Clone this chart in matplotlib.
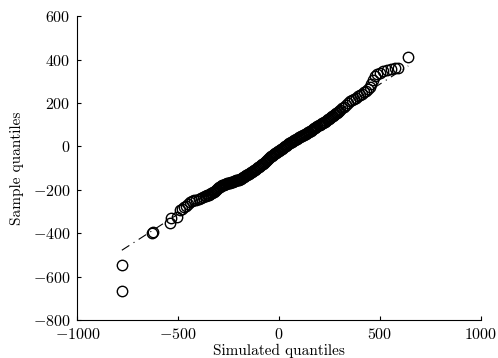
import numpy as np
import matplotlib
matplotlib.use("Agg")
import matplotlib.pyplot as plt

plt.rcParams["font.family"] = "serif"
plt.rcParams["font.serif"] = ["cmr10"]
plt.rcParams["mathtext.fontset"] = "cm"
plt.rcParams["axes.formatter.use_mathtext"] = True
plt.rcParams["font.size"] = 11

# simulated quantiles (x) against sample quantiles (y), sorted
sim_q = [
    -780, -777, -633, -625, -542, -537, -509, -493, -480,
    -470, -460, -450, -440, -430, -420, -410, -400, -390, -380,
    -370, -365, -360, -355, -350, -345, -340, -335, -330, -325,
    -320, -315, -310, -305, -300, -295, -290, -285, -280, -275,
    -270, -265, -260, -255, -250, -245, -240, -235, -230, -225,
    -220, -215, -210, -205, -200, -195, -190, -185, -180, -175,
    -170, -165, -160, -155, -150, -145, -140, -135, -130, -125,
    -120, -115, -110, -105, -100, -95, -90, -85, -80, -75,
    -70, -65, -60, -55, -50, -45, -40, -35, -30, -25,
    -20, -15, -10, -5, 0, 5, 10, 15, 20, 25,
    30, 35, 40, 45, 50, 55, 60, 65, 70, 75,
    80, 85, 90, 95, 100, 105, 110, 115, 120, 125,
    130, 135, 140, 145, 150, 155, 160, 165, 170, 175,
    180, 185, 190, 195, 200, 205, 210, 215, 220, 225,
    230, 235, 240, 245, 250, 255, 260, 265, 270, 275,
    280, 285, 290, 295, 300,
    310, 320, 330, 340, 350, 360, 370, 380, 390, 400,
    410, 420, 430, 440, 450, 455, 465, 475, 485, 500,
    515, 534, 555, 574, 589, 640,
]
sample_q = [
    -665, -547, -401, -393, -355, -332, -324, -294, -288,
    -281, -273, -265, -258, -253, -249, -245, -241, -237, -233,
    -230, -228, -226, -224, -222, -220, -217, -214, -211, -208,
    -205, -201, -197, -193, -189, -185, -182, -180, -178, -176,
    -174, -173, -171, -170, -168, -167, -165, -164, -162, -161,
    -159, -157, -156, -154, -153, -151, -148, -145, -143, -140,
    -137, -134, -131, -129, -126, -123, -120, -117, -113, -110,
    -107, -104, -101, -97, -94, -91, -87, -83, -80, -76,
    -72, -68, -63, -59, -54, -50, -46, -43, -39, -36,
    -32, -29, -26, -23, -20, -17, -13, -10, -6, -3,
    0, 4, 7, 11, 14, 17, 20, 22, 25, 28,
    31, 33, 36, 38, 41, 44, 46, 49, 51, 54,
    57, 59, 62, 64, 67, 70, 73, 77, 80, 83,
    86, 90, 93, 97, 100, 103, 106, 108, 111, 114,
    117, 120, 124, 127, 130, 134, 138, 141, 145, 149,
    153, 156, 160, 163, 167,
    175, 183, 192, 200, 209, 214, 219, 225, 230, 236,
    242, 249, 257, 264, 272, 285, 305, 324, 332, 338,
    345, 352, 356, 359, 363, 410,
]

# reference line through the quartiles
ref_slope = 0.598
ref_intercept = -12

fig = plt.figure(figsize=(4.98, 3.58), dpi=100)
ax = fig.add_axes([0.1556, 0.106, 0.81, 0.849])

ax.plot(sim_q, sample_q, "o", mfc="none", mec="k", ms=7.5, mew=1.0)

xs = np.array([min(sim_q), max(sim_q)])
ax.plot(xs, ref_intercept + ref_slope * xs, color="k", lw=0.8,
        dashes=[8, 4.5, 1, 4.5])

ax.set_xlim(-1000, 1000)
ax.set_ylim(-800, 600)
ax.set_xticks([-1000, -500, 0, 500, 1000])
ax.set_yticks([-800, -600, -400, -200, 0, 200, 400, 600])
ax.spines["top"].set_visible(False)
ax.spines["right"].set_visible(False)
ax.spines["left"].set_linewidth(0.8)
ax.spines["bottom"].set_linewidth(0.8)
ax.tick_params(direction="in", length=3, width=0.8, pad=5, labelsize=11.5)
ax.set_xlabel("Simulated quantiles", labelpad=1)
ax.set_ylabel("Sample quantiles", labelpad=6)

fig.savefig("out.png", dpi=100)
